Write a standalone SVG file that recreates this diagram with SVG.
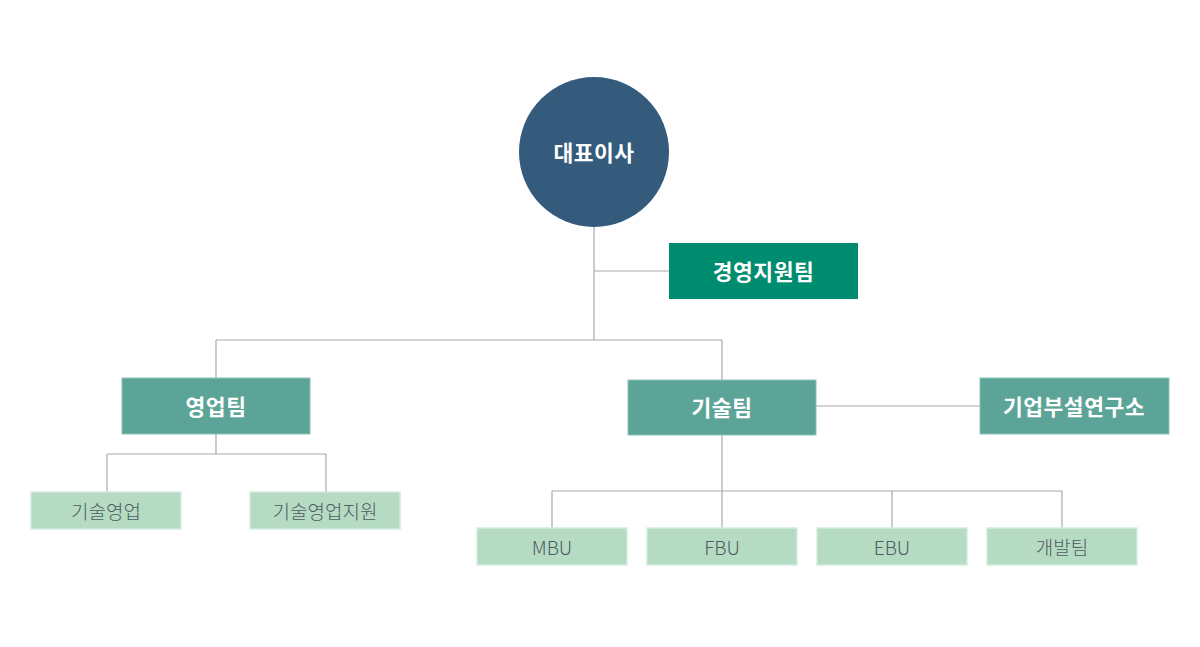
<svg xmlns="http://www.w3.org/2000/svg" width="1200" height="647" viewBox="0 0 1200 647">
<style>
.t{font-family:"Noto Sans CJK KR","Noto Sans",sans-serif;text-anchor:middle;dominant-baseline:central}
.h{font-size:21.5px;font-weight:700;fill:#fff;letter-spacing:0.5px}
.s{font-size:19px;font-weight:300;fill:#4f5c63}
.mid{fill:#5da498;stroke:#8cc4b8;stroke-width:1}
.lite{fill:#b6dbc3;stroke:#d4ece0;stroke-width:1.5}
.ln{fill:none;stroke:#aaaaaa;stroke-width:1.2}
</style>
<rect width="1200" height="647" fill="#fff"/>
<g id="connectors">
<path class="ln" d="M594 227V340M594 271H669M216 340H722M216 340V378M722 340V380M816 406H980M216 434V454M107 454H326M107 454V492M326 454V492M722 435V528M552 491H1062M552 491V528M892 491V528M1062 491V528"/>
</g>
<g id="ceo">
<circle cx="594" cy="152" r="75" fill="#345b7c"/>
<text class="t h" x="594" y="151">대표이사</text>
</g>
<g id="mgmt">
<rect x="669" y="243" width="189" height="56" fill="#008c6e"/>
<text class="t h" x="763.5" y="270">경영지원팀</text>
</g>
<g id="sales">
<rect class="mid" x="122" y="378" width="188" height="56"/>
<text class="t h" x="216" y="405">영업팀</text>
</g>
<g id="tech">
<rect class="mid" x="628" y="380" width="188" height="55"/>
<text class="t h" x="722" y="406">기술팀</text>
</g>
<g id="lab">
<rect class="mid" x="980" y="378" width="189" height="56"/>
<text class="t h" x="1074" y="405">기업부설연구소</text>
</g>
<g id="techsales">
<rect class="lite" x="31" y="492" width="150" height="37"/>
<text class="t s" x="106" y="510">기술영업</text>
</g>
<g id="techsalessupport">
<rect class="lite" x="250" y="492" width="150" height="37"/>
<text class="t s" x="325" y="510">기술영업지원</text>
</g>
<g id="mbu">
<rect class="lite" x="477" y="528" width="150" height="37"/>
<text class="t s" x="552" y="546">MBU</text>
</g>
<g id="fbu">
<rect class="lite" x="647" y="528" width="150" height="37"/>
<text class="t s" x="722" y="546">FBU</text>
</g>
<g id="ebu">
<rect class="lite" x="817" y="528" width="150" height="37"/>
<text class="t s" x="892" y="546">EBU</text>
</g>
<g id="dev">
<rect class="lite" x="987" y="528" width="150" height="37"/>
<text class="t s" x="1062" y="546">개발팀</text>
</g>
</svg>
